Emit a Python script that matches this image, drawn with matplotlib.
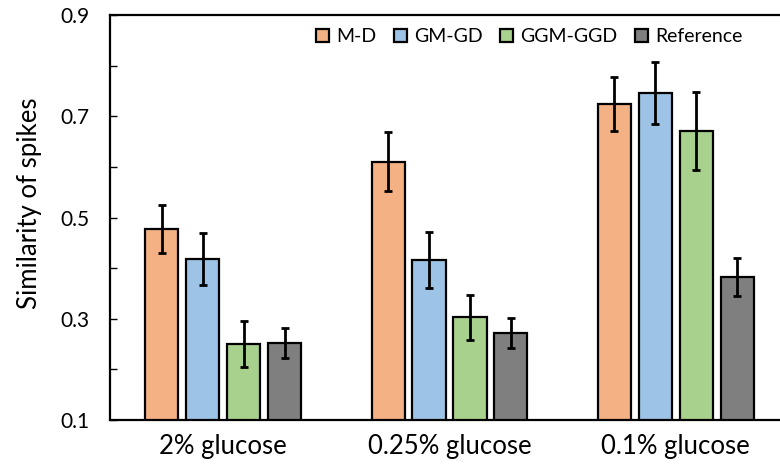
import matplotlib
matplotlib.use("Agg")
import matplotlib.pyplot as plt
import numpy as np

plt.rcParams["font.family"] = ["Lato", "DejaVu Sans"]

groups = ["2% glucose", "0.25% glucose", "0.1% glucose"]
series = ["M-D", "GM-GD", "GGM-GGD", "Reference"]
colors = ["#F4B183", "#9DC3E6", "#A9D18E", "#7F7F7F"]

# mean similarity per series, one value per glucose level
md = [0.477, 0.610, 0.724]
gm_gd = [0.418, 0.416, 0.746]
ggm_ggd = [0.250, 0.303, 0.671]
ref = [0.252, 0.272, 0.382]

md_err = [0.047, 0.058, 0.054]
gm_gd_err = [0.052, 0.055, 0.061]
ggm_ggd_err = [0.046, 0.044, 0.077]
ref_err = [0.029, 0.030, 0.038]

values = [md, gm_gd, ggm_ggd, ref]
errors = [md_err, gm_gd_err, ggm_ggd_err, ref_err]

fig = plt.figure(figsize=(7.8, 4.68), dpi=100)
ax = fig.add_axes([110 / 780, 48 / 468, 679 / 780, 405 / 468])

x = np.arange(len(groups))
pitch = 0.181
width = 0.146
for i, (vals, errs) in enumerate(zip(values, errors)):
    pos = x + (i - 1.5) * pitch
    ax.bar(pos, vals, width, color=colors[i], edgecolor="black", linewidth=1.6,
           label=series[i], zorder=2)
    ax.errorbar(pos, vals, yerr=errs, fmt="none", ecolor="black", elinewidth=2,
                capsize=3, capthick=2, zorder=3)

ax.set_xlim(-0.5, 2.5)
ax.set_ylim(0.1, 0.9)
ax.set_yticks([0.1, 0.3, 0.5, 0.7, 0.9])
ax.set_yticks([0.2, 0.4, 0.6, 0.8], minor=True)
ax.tick_params(axis="y", which="both", direction="in", length=5, width=1,
               labelsize=15, pad=15)
ax.set_xticks(x)
ax.set_xticklabels(groups, fontsize=18.5)
ax.tick_params(axis="x", length=0, pad=10)
ax.set_ylabel("Similarity of spikes", fontsize=18.5)
ax.yaxis.set_label_coords(-0.1, 0.536)

for s in ax.spines.values():
    s.set_linewidth(1.6)

ax.legend(loc="upper right", bbox_to_anchor=(0.931, 0.967), ncol=4, frameon=False,
          fontsize=14, handlelength=0.67, handleheight=0.67, handletextpad=0.36,
          columnspacing=0.9, borderpad=0, borderaxespad=0)

fig.savefig("out.png", dpi=100)
